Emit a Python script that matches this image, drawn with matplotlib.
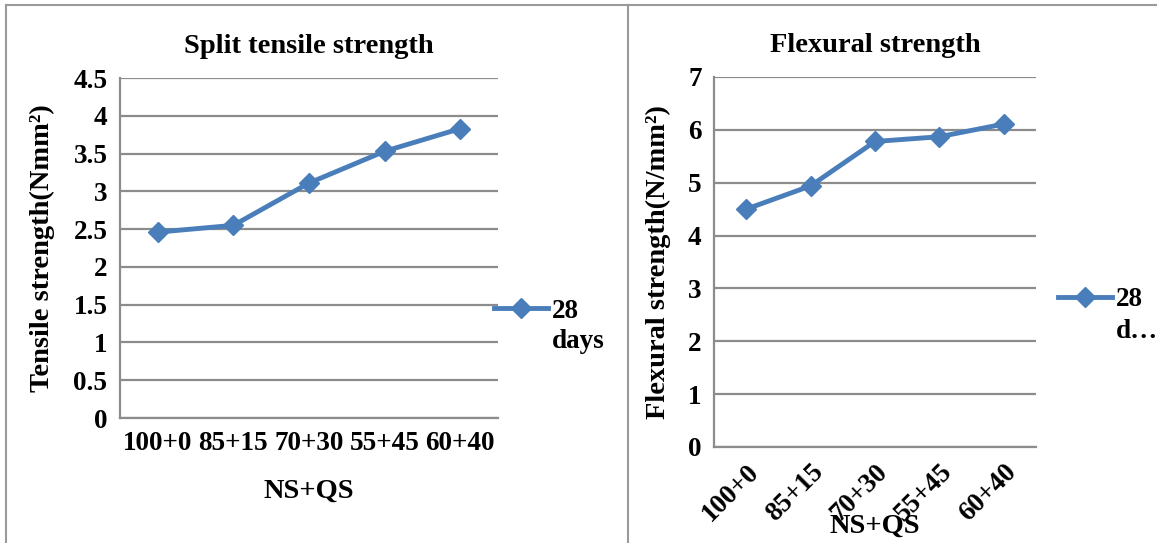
import matplotlib
matplotlib.use('Agg')
import matplotlib.pyplot as plt
from matplotlib.lines import Line2D

# ── data ────────────────────────────────────────────────
mixes = ['100+0', '85+15', '70+30', '55+45', '60+40']
tensile_28d = [2.46, 2.55, 3.11, 3.53, 3.83]
flexural_28d = [4.50, 4.94, 5.78, 5.87, 6.11]
tensile_ticks = [0, 0.5, 1, 1.5, 2, 2.5, 3, 3.5, 4, 4.5]
flexural_ticks = [0, 1, 2, 3, 4, 5, 6, 7]

plt.rcParams['font.family'] = ['Liberation Serif', 'DejaVu Serif']
plt.rcParams['font.weight'] = 'bold'

BLUE = '#4a7ebb'
GRID = '#8c8c8c'
W, H = 1157, 543
TICK_FS = 19.5
LAB_FS = 20.5

fig = plt.figure(figsize=(W / 100, H / 100), dpi=100)


def px_axes(x0, x1, y0, y1):
    # pixel box (from top-left) -> figure axes
    return fig.add_axes([x0 / W, (H - y1) / H, (x1 - x0) / W, (y1 - y0) / H])


def style(ax, ticks):
    ax.set_yticks(ticks)
    ax.set_ylim(ticks[0], ticks[-1])
    ax.set_xlim(-0.5, len(mixes) - 0.5)
    ax.set_xticks(range(len(mixes)))
    ax.grid(axis='y', color=GRID, lw=1.6)
    ax.set_axisbelow(True)
    for s in ['top', 'right']:
        ax.spines[s].set_visible(False)
    for s in ['left', 'bottom']:
        ax.spines[s].set_color(GRID)
        ax.spines[s].set_linewidth(1.6)
    ax.tick_params(length=0, labelsize=TICK_FS, pad=9)
    for lab in ax.get_yticklabels() + ax.get_xticklabels():
        lab.set_fontweight('bold')


# ── left: split tensile ─────────────────────────────────
ax1 = px_axes(120, 498, 78, 418)
ax1.plot(range(len(mixes)), tensile_28d, color=BLUE, lw=3.5, marker='D', ms=10.5)
style(ax1, tensile_ticks)
ax1.set_yticklabels([f'{t:g}' for t in tensile_ticks])
ax1.set_xticklabels(mixes)
ax1.set_title('Split tensile strength', fontsize=LAB_FS, fontweight='bold', pad=18)
ax1.set_xlabel('NS+QS', fontsize=LAB_FS, fontweight='bold', labelpad=17)
ax1.set_ylabel('Tensile strength(Nmm²)', fontsize=LAB_FS, fontweight='bold', labelpad=13)

# ── right: flexural ─────────────────────────────────────
ax2 = px_axes(714, 1036, 77, 447)
ax2.plot(range(len(mixes)), flexural_28d, color=BLUE, lw=3.5, marker='D', ms=10.5)
style(ax2, flexural_ticks)
ax2.set_xticklabels(mixes, rotation=45, ha='right', rotation_mode='anchor')
ax2.set_title('Flexural strength', fontsize=LAB_FS, fontweight='bold', pad=18)
ax2.set_xlabel('NS+QS', fontsize=LAB_FS, fontweight='bold', labelpad=-9)
ax2.set_ylabel('Flexural strength(N/mm²)', fontsize=LAB_FS, fontweight='bold', labelpad=12)

# ── legends (handle beside first line of the label) ─────
for ax, x_px, y_px, second in [(ax1, 494, 311, 'days'), (ax2, 1058, 300, 'd\u2026')]:
    leg = ax.legend(['28'], loc='center left',
                    bbox_to_anchor=(x_px / W, (H - y_px) / H), bbox_transform=fig.transFigure,
                    frameon=False, handlelength=2.0, handletextpad=0.15,
                    borderaxespad=0, borderpad=0,
                    prop={'size': TICK_FS, 'weight': 'bold'})
    fig.text((x_px + 58) / W, (H - y_px - 31) / H, second, fontsize=TICK_FS, fontweight='bold',
             va='center', ha='left')

# ── panel borders ───────────────────────────────────────
bc = '#9a9a9a'
for xs, ys in [([6, 6], [5, H]), ([6, 628], [5, 5]), ([628, 628], [5, H]), ([628, W], [5, 5])]:
    fig.add_artist(Line2D([x / W for x in xs], [(H - y) / H for y in ys], color=bc, lw=1.5))

fig.savefig('out.png', dpi=100)
